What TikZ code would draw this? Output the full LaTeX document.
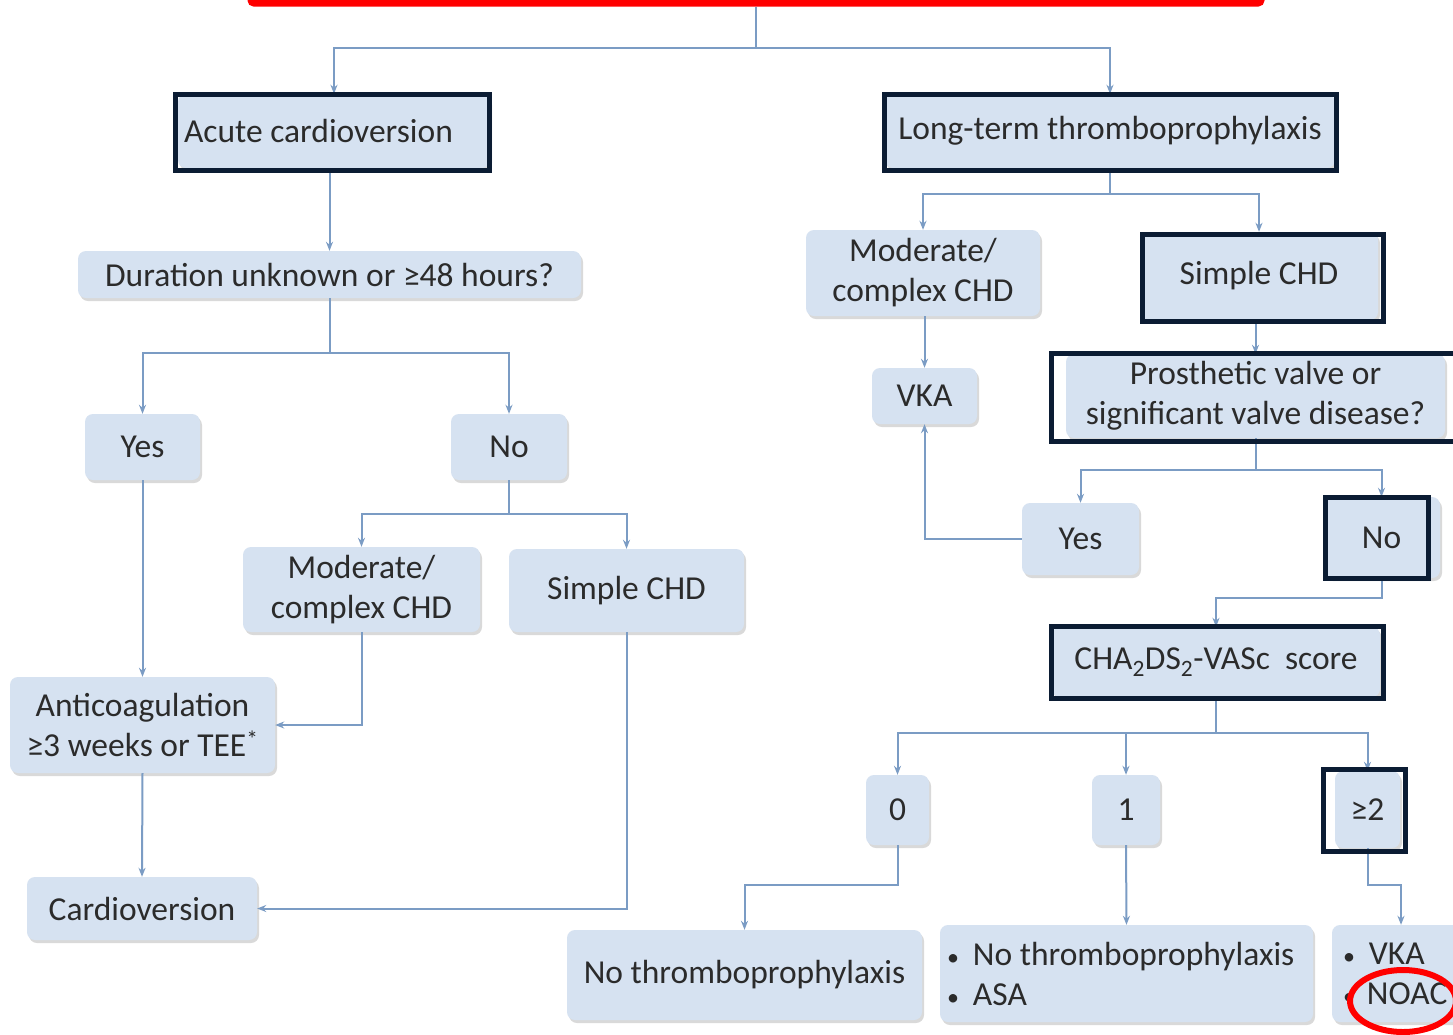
\documentclass[tikz,border=0pt]{standalone}
\usepackage{fontspec}
\setmainfont{Carlito}
\usetikzlibrary{arrows.meta,shadows}
\definecolor{boxfill}{HTML}{D6E2F1}
\definecolor{conncol}{HTML}{7B9CC4}
\definecolor{framecol}{HTML}{0B1C33}
\definecolor{txt}{HTML}{2B2B2B}
\newcommand{\smbul}{{\fontsize{24}{24}\selectfont•}}
\begin{document}
\begin{tikzpicture}[x=1pt,y=-1pt,
  box/.style={rounded corners=8pt, fill=boxfill, draw=none, text=txt, align=center,
    inner sep=0pt, font=\fontsize{33.5}{40}\selectfont,
    drop shadow={shadow xshift=2pt, shadow yshift=-3pt, fill=black, opacity=0.15}},
  conn/.style={draw=conncol, line width=2pt, -{Stealth[length=9pt,width=7pt]}},
  hilite/.style={draw=framecol, line width=5pt},
  redmark/.style={draw=red, line width=7pt}]
\useasboundingbox (0,0) rectangle (1453,1034);
\fill[white] (0,0) rectangle (1453,1034);

% red top box
\node[redmark, rounded corners=3pt, minimum width=1010pt, minimum height=46pt] (redbox) at (756,-20) {};

% boxes
\node[box, minimum width=312pt, minimum height=74pt, text width=300pt, inner xsep=6pt, align=flush left] (acute) at (334,131) {Acute cardioversion};
\node[box, minimum width=450pt, minimum height=74pt] (longterm) at (1110,131) {Long-term thromboprophylaxis};
\node[box, minimum width=503pt, minimum height=47pt] (duration) at (329.5,274.5) {Duration unknown or ≥48 hours?};
\node[box, minimum width=115pt, minimum height=66pt] (yesL) at (142.5,447) {Yes};
\node[box, minimum width=116pt, minimum height=66pt] (noL) at (509,447) {No};
\node[box, minimum width=237pt, minimum height=85pt] (modL) at (361.5,589.5) {Moderate/\\complex CHD};
\node[box, minimum width=235pt, minimum height=83pt] (simpleL) at (626.5,590.5) {Simple CHD};
\node[box, minimum width=265pt, minimum height=96pt] (anticoag) at (142.5,725) {Anticoagulation\\≥3 weeks or TEE\textsuperscript{*}};
\node[box, minimum width=230pt, minimum height=63pt] (cardio) at (142,908.5) {Cardioversion};

\node[box, minimum width=234pt, minimum height=86pt] (modR) at (923,273) {Moderate/\\complex CHD};
\node[box, minimum width=238pt, minimum height=88pt] (simpleR) at (1259,276) {Simple CHD};
\node[box, minimum width=105pt, minimum height=56pt] (vka) at (924.5,396) {VKA};
\node[box, minimum width=379pt, minimum height=84pt] (prosth) at (1255.5,396) {Prosthetic valve or\\significant valve disease?};
\node[box, minimum width=117pt, minimum height=72pt] (yesR) at (1080.5,539) {Yes};
\node[box, minimum width=117pt, minimum height=81pt] (noR) at (1381.5,537.5) {No};
\node[box, minimum width=328pt, minimum height=70pt] (cha) at (1216,662) {CHA\textsubscript{2}DS\textsubscript{2}-VASc\ \ score};
\node[box, minimum width=63pt, minimum height=70pt] (zero) at (897.5,810) {0};
\node[box, minimum width=68pt, minimum height=70pt] (one) at (1126,810) {1};
\node[box, minimum width=65pt, minimum height=77pt] (geq2) at (1367.5,809.5) {≥2};
\node[box, minimum width=355pt, minimum height=90pt] (nothromb) at (744.5,975) {No thromboprophylaxis};
\node[box, minimum width=373pt, minimum height=97pt, text width=359pt, inner xsep=7pt, align=flush left] (mid) at (1126.5,973.5) {\smbul\hspace{14pt}No thromboprophylaxis\\\smbul\hspace{14pt}ASA};
\node[box, minimum width=138pt, minimum height=97pt, text width=124pt, inner xsep=7pt, align=flush left] (right) at (1401,973.5) {\hspace{4pt}\smbul\hspace{14pt}VKA\\\hspace{4pt}\smbul\hspace{12pt}NOAC};

% connectors
\draw[conn] (redbox.south) -- ++(0,41) -| (acute.north);
\draw[conn] (redbox.south) -- ++(0,41) -| (longterm.north);
\draw[conn] (duration.north |- acute.south) -- (duration.north);
\draw[conn] (duration.south) -- ++(0,55) -| (yesL.north);
\draw[conn] (duration.south) -- ++(0,55) -| (noL.north);
\draw[conn] (yesL.south) -- (anticoag.north);
\draw[conn] (noL.south) -- ++(0,34) -| (modL.north);
\draw[conn] (noL.south) -- ++(0,34) -| (simpleL.north);
\draw[conn] (modL.south) |- (anticoag.east);
\draw[conn] (anticoag.south) -- (cardio.north);
\draw[conn] (simpleL.south) |- (cardio.east);

\draw[conn] (longterm.south) -- ++(0,26) -| (modR.north);
\draw[conn] (longterm.south) -- ++(0,26) -| (simpleR.north);
\draw[conn] (vka.north |- modR.south) -- (vka.north);
\draw[conn] (prosth.north |- simpleR.south) -- (prosth.north);
\draw[conn] (prosth.south) -- ++(0,32) -| (yesR.north);
\draw[conn] (prosth.south) -- ++(0,32) -| (noR.north);
\draw[conn] (yesR.west) -| (vka.south);
\draw[conn] (noR.south) -- ++(0,20) -| (cha.north);
\draw[conn] (cha.south) -- ++(0,36) -| (zero.north);
\draw[conn] (cha.south) -- ++(0,36) -| (one.north);
\draw[conn] (cha.south) -- ++(0,36) -| (geq2.north);
\draw[conn] (zero.south) -- ++(0,40) -| (nothromb.north);
\draw[conn] (one.south) -- (mid.north);
\draw[conn] (geq2.south) -- ++(0,37) -| (right.north);

% highlight frames
\draw[hilite] (175.5,94.5) rectangle (489.5,170);
\draw[hilite] (884.5,94.5) rectangle (1336,170);
\draw[hilite] (1142.5,234.5) rectangle (1383,321);
\draw[hilite] (1051.5,353.5) rectangle (1470,441.5);
\draw[hilite] (1325.5,497.5) rectangle (1428,578);
\draw[hilite] (1051.5,626.5) rectangle (1383,698);
\draw[hilite] (1323.5,769.5) rectangle (1405,851);

% red ellipse
\draw[redmark, line width=6pt] (1403,1001) ellipse (53 and 31);
\end{tikzpicture}
\end{document}
